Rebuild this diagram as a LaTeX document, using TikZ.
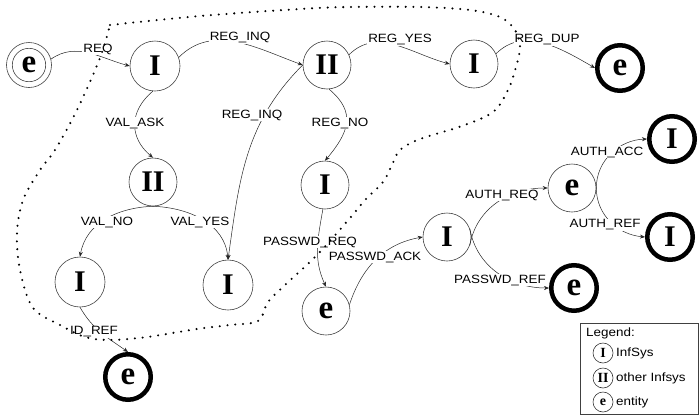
\documentclass[tikz,border=0pt]{standalone}
\usepackage{fontspec}
\setmainfont{Liberation Serif}
\newfontfamily\lblfont[FakeStretch=1.12]{Liberation Sans}
\usetikzlibrary{arrows.meta}
\begin{document}
\begin{tikzpicture}[x=1pt,y=1pt,
  st/.style={circle, draw=black!75, line width=0.6pt, minimum size=50pt, inner sep=0pt,
    font=\fontsize{30}{30}\selectfont\bfseries},
  ste/.style={st, font=\fontsize{33}{33}\selectfont\bfseries},
  fine/.style={circle, draw=black, line width=4.5pt, minimum size=45.5pt, inner sep=0pt,
    font=\fontsize{33}{33}\selectfont\bfseries},
  fini/.style={fine, font=\fontsize{30}{30}\selectfont\bfseries},
  conn/.style={draw=black!85, line width=0.5pt, -{Stealth[length=5pt,width=4pt]}},
  lbl/.style={fill=white, inner sep=1pt, font=\lblfont\fontsize{12}{12}\selectfont},
  lgt/.style={inner sep=1pt, anchor=west, font=\lblfont\fontsize{12}{12}\selectfont},
  lgc/.style={circle, draw=black!80, line width=0.6pt, minimum size=20pt, inner sep=0pt,
    font=\fontsize{14}{14}\selectfont\bfseries},
  bound/.style={draw=black, line width=2.3pt, dash pattern=on 0pt off 7.8pt, line cap=round}
]
\useasboundingbox (0,0) rectangle (700,-418);

% nodes
\node[ste, minimum size=45pt] (e0) at (29,-65) {e};
\draw[draw=black!75, line width=0.6pt] (e0.center) circle[radius=16.7];
\node[st] (I1) at (155,-66) {I};
\node[st, minimum size=48pt] (II1) at (327,-65) {II};
\node[st, minimum size=48pt] (I2) at (474,-64) {I};
\node[fine] (edup) at (620,-68) {e};
\node[st, minimum size=48pt] (II2) at (153,-182) {II};
\node[st, minimum size=48pt] (I3) at (325,-185) {I};
\node[st] (I4) at (80,-282) {I};
\node[st] (I5) at (228,-285) {I};
\node[ste, minimum size=48pt] (epw) at (326,-311) {e};
\node[st, minimum size=48pt] (I6) at (447,-237) {I};
\node[ste, minimum size=48pt] (eauth) at (572,-188) {e};
\node[fini] (Iacc) at (672,-139) {I};
\node[fini] (Iref) at (670,-237) {I};
\node[fine] (epwref) at (574,-288) {e};
\node[fine] (eidref) at (128,-377) {e};

% connectors
\draw[conn] (e0.15) to[out=35,in=165] (I1.west);
\draw[conn] (I1.20) to[out=45,in=160] (II1.west);
\draw[conn] (II1.25) to[out=45,in=165] (I2.west);
\draw[conn] (I2.25) to[out=45,in=150] (edup.west);
\draw[conn] (I1.-95) to[out=-140,in=140,looseness=1.2] (II2.north);
\draw[conn] (II1.-85) to[out=-40,in=50,looseness=1.3] (I3.north);
\draw[conn] (II1.west) to[out=225,in=82] (I5.north);
\draw[conn] (II2.south) to[out=182,in=80] (I4.north);
\draw[conn] (II2.south) to[out=-2,in=95] (I5.north);
\draw[conn] (I4.south) to[out=-60,in=145] (eidref.north);
\draw[conn] (I3.-95) to[out=-100,in=115] (epw.north);
\draw[conn] (epw.15) to[out=72,in=190] (I6.west);
\draw[conn] (I6.-20) to[out=80,in=180] (eauth.west);
\draw[conn] (I6.20) to[out=-80,in=180] (epwref.west);
\draw[conn] (eauth.east) to[out=90,in=182] (Iacc.west);
\draw[conn] (eauth.east) to[out=-90,in=175] (Iref.west);

% labels
\node[lbl] (lREQ) at (98,-49) {REQ};
\node[lbl] (lRI1) at (240,-38) {REG\_INQ};
\node[lbl] (lRY) at (400,-40) {REG\_YES};
\node[lbl] (lRD) at (547,-40) {REG\_DUP};
\node[lbl] (lVA) at (135,-123) {VAL\_ASK};
\node[lbl] (lRI2) at (252,-115) {REG\_INQ};
\node[lbl] (lRN) at (340,-123) {REG\_NO};
\node[lbl] (lVN) at (107,-222) {VAL\_NO};
\node[lbl] (lVY) at (200,-222) {VAL\_YES};
\node[lbl] (lPR) at (310,-242) {PASSWD\_REQ};
\node[lbl] (lPA) at (375,-257) {PASSWD\_ACK};
\node[lbl] (lAR) at (502,-195) {AUTH\_REQ};
\node[lbl] (lAA) at (607,-152) {AUTH\_ACC};
\node[lbl] (lAF) at (605,-225) {AUTH\_REF};
\node[lbl] (lPF) at (500,-280) {PASSWD\_REF};
\node[lbl] (lID) at (94,-332) {ID\_REF};

% dotted boundary
\draw[bound] plot[smooth, tension=0.55] coordinates {
 (110,-25) (200,-16) (300,-9) (350,-7) (420,-7) (470,-10) (500,-17) (515,-30)
 (520,-47) (516,-67) (508,-90) (493,-112) (462,-126) (420,-139) (400,-150)
 (392,-165) (383,-182) (365,-200) (350,-218) (317,-255) (285,-285) (268,-302)
 (258,-321) (230,-325) (197,-329) (147,-337) (110,-340) (85,-337) (62,-326)
 (33,-308) (20,-270) (17,-233) (23,-200) (40,-170) (55,-150) (77,-110)
 (100,-58) (110,-25)};

% legend
\node[draw=black!75, line width=0.7pt, minimum width=118pt, minimum height=91pt,
  inner sep=0pt, anchor=north west] (legend) at (580,-323) {};
\node[lgt] (legt) at (585,-333) {Legend:};
\node[lgc] (lg1) at (603,-353) {I};
\node[lgt] (lg1t) at (615,-353) {InfSys};
\node[lgc] (lg2) at (603,-378) {II};
\node[lgt] (lg2t) at (615,-378) {other Infsys};
\node[lgc] (lg3) at (603,-402) {e};
\node[lgt] (lg3t) at (615,-402) {entity};
\end{tikzpicture}
\end{document}
